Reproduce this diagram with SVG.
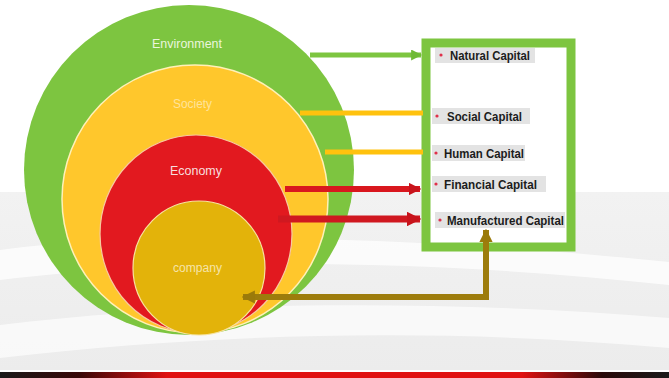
<svg xmlns="http://www.w3.org/2000/svg" width="669" height="378" viewBox="0 0 669 378">
<defs>
<style>
.ring-label{font-family:"Liberation Sans",Arial,sans-serif;font-size:12.5px;text-anchor:start}
.cap{font-family:"Liberation Sans",Arial,sans-serif;font-size:12.5px;font-weight:bold;fill:#1c1c1c}
.hl{fill:#dcdcdc;opacity:0.8}
.bullet{fill:#e0304a}
.conn{fill:none}
</style>
<linearGradient id="bg" x1="0" y1="0" x2="0" y2="1">
<stop offset="0" stop-color="#f2f2f2"/>
<stop offset="1" stop-color="#ececec"/>
</linearGradient>
<linearGradient id="band" x1="0" y1="0" x2="1" y2="0">
<stop offset="0" stop-color="#1a1a1a"/>
<stop offset="0.12" stop-color="#3a0808"/>
<stop offset="0.25" stop-color="#e01212"/>
<stop offset="0.78" stop-color="#e01212"/>
<stop offset="0.9" stop-color="#2a0a0a"/>
<stop offset="1" stop-color="#1a1a1a"/>
</linearGradient>
<marker id="ahGreen" viewBox="0 0 10 10" refX="9" refY="5" markerWidth="2.2" markerHeight="2.2" orient="auto" markerUnits="strokeWidth">
<path d="M0,0 L10,5 L0,10 Z" fill="#6fba35"/>
</marker>
<marker id="ahRed" viewBox="0 0 10 10" refX="9" refY="5" markerWidth="2.1" markerHeight="2.1" orient="auto" markerUnits="strokeWidth">
<path d="M0,0 L10,5 L0,10 Z" fill="#c8141c"/>
</marker>
<marker id="ahOlive" viewBox="0 0 10 10" refX="9" refY="5" markerWidth="2.2" markerHeight="2.2" orient="auto-start-reverse" markerUnits="strokeWidth">
<path d="M0,0 L10,5 L0,10 Z" fill="#9a7a0a"/>
</marker>
</defs>

<!-- background -->
<rect x="0" y="0" width="669" height="378" fill="#ffffff"/>
<path d="M0,192 L669,192 L669,370 L0,370 Z" fill="url(#bg)"/>
<path d="M0,250 C150,230 400,235 669,262 L669,285 C420,258 180,258 0,280 Z" fill="#ffffff" opacity="0.75"/>
<path d="M0,325 C200,300 450,300 669,318 L669,348 C450,328 220,332 0,358 Z" fill="#ffffff" opacity="0.65"/>
<rect x="0" y="370" width="669" height="2" fill="#ffffff"/>
<rect x="0" y="372" width="669" height="6" fill="url(#band)"/>

<g id="environment">
<circle cx="189" cy="170" r="165" fill="#7dc540"/>
<text class="ring-label" x="152" y="48" fill="#eaf6dc" textLength="70" lengthAdjust="spacingAndGlyphs">Environment</text>
</g>
<g id="society">
<ellipse cx="195" cy="199" rx="133" ry="134" fill="#ffc72c" stroke="#fff1b8" stroke-width="1.5"/>
<text class="ring-label" x="173" y="108" fill="#ffe39a" textLength="39" lengthAdjust="spacingAndGlyphs">Society</text>
</g>
<g id="economy">
<ellipse cx="196" cy="234" rx="96" ry="99" fill="#e2191f" stroke="#f7c9a0" stroke-width="1.2"/>
<text class="ring-label" x="170" y="175" fill="#f8dede" textLength="52" lengthAdjust="spacingAndGlyphs">Economy</text>
</g>
<g id="company">
<ellipse cx="199" cy="268" rx="66" ry="67" fill="#e3b30a" stroke="#f7e3a0" stroke-width="1.2"/>
<text class="ring-label" x="173" y="272" fill="#f6e4a8" textLength="49" lengthAdjust="spacingAndGlyphs">company</text>
</g>

<g id="capitals">
<rect x="426" y="43" width="145" height="204" fill="#ffffff" stroke="#7dc540" stroke-width="9"/>
<g id="natural">
<rect class="hl" x="435" y="48" width="100" height="15"/>
<circle class="bullet" cx="441" cy="55" r="1.6"/>
<text class="cap" x="450" y="59.5" textLength="80" lengthAdjust="spacingAndGlyphs">Natural Capital</text>
</g>
<g id="social">
<rect class="hl" x="432" y="108" width="98" height="16"/>
<circle class="bullet" cx="437" cy="116" r="1.6"/>
<text class="cap" x="447" y="120.5" textLength="75" lengthAdjust="spacingAndGlyphs">Social Capital</text>
</g>
<g id="human">
<rect class="hl" x="432" y="145" width="93" height="16"/>
<circle class="bullet" cx="436" cy="153" r="1.6"/>
<text class="cap" x="444" y="157.5" textLength="80" lengthAdjust="spacingAndGlyphs">Human Capital</text>
</g>
<g id="financial">
<rect class="hl" x="432" y="176" width="114" height="16"/>
<circle class="bullet" cx="436" cy="184" r="1.6"/>
<text class="cap" x="444" y="188.5" textLength="93" lengthAdjust="spacingAndGlyphs">Financial Capital</text>
</g>
<g id="manufactured">
<rect class="hl" x="435" y="212" width="130" height="16"/>
<circle class="bullet" cx="440" cy="220" r="1.6"/>
<text class="cap" x="447" y="224.5" textLength="117" lengthAdjust="spacingAndGlyphs">Manufactured Capital</text>
</g>
</g>

<g id="connectors" class="conn">
<line x1="310" y1="55" x2="421" y2="55" stroke="#7dc540" stroke-width="5" marker-end="url(#ahGreen)"/>
<line x1="300" y1="113" x2="423" y2="113" stroke="#ffc20e" stroke-width="5"/>
<line x1="325" y1="152" x2="423" y2="152" stroke="#ffc20e" stroke-width="5"/>
<line x1="285" y1="189" x2="420" y2="189" stroke="#d9171e" stroke-width="6" marker-end="url(#ahRed)"/>
<line x1="278" y1="219" x2="420" y2="219" stroke="#d01820" stroke-width="7" marker-end="url(#ahRed)"/>
<polyline points="243,297 486,297 486,230" stroke="#9d7c0c" stroke-width="6" stroke-linejoin="miter" marker-start="url(#ahOlive)" marker-end="url(#ahOlive)"/>
</g>
</svg>
